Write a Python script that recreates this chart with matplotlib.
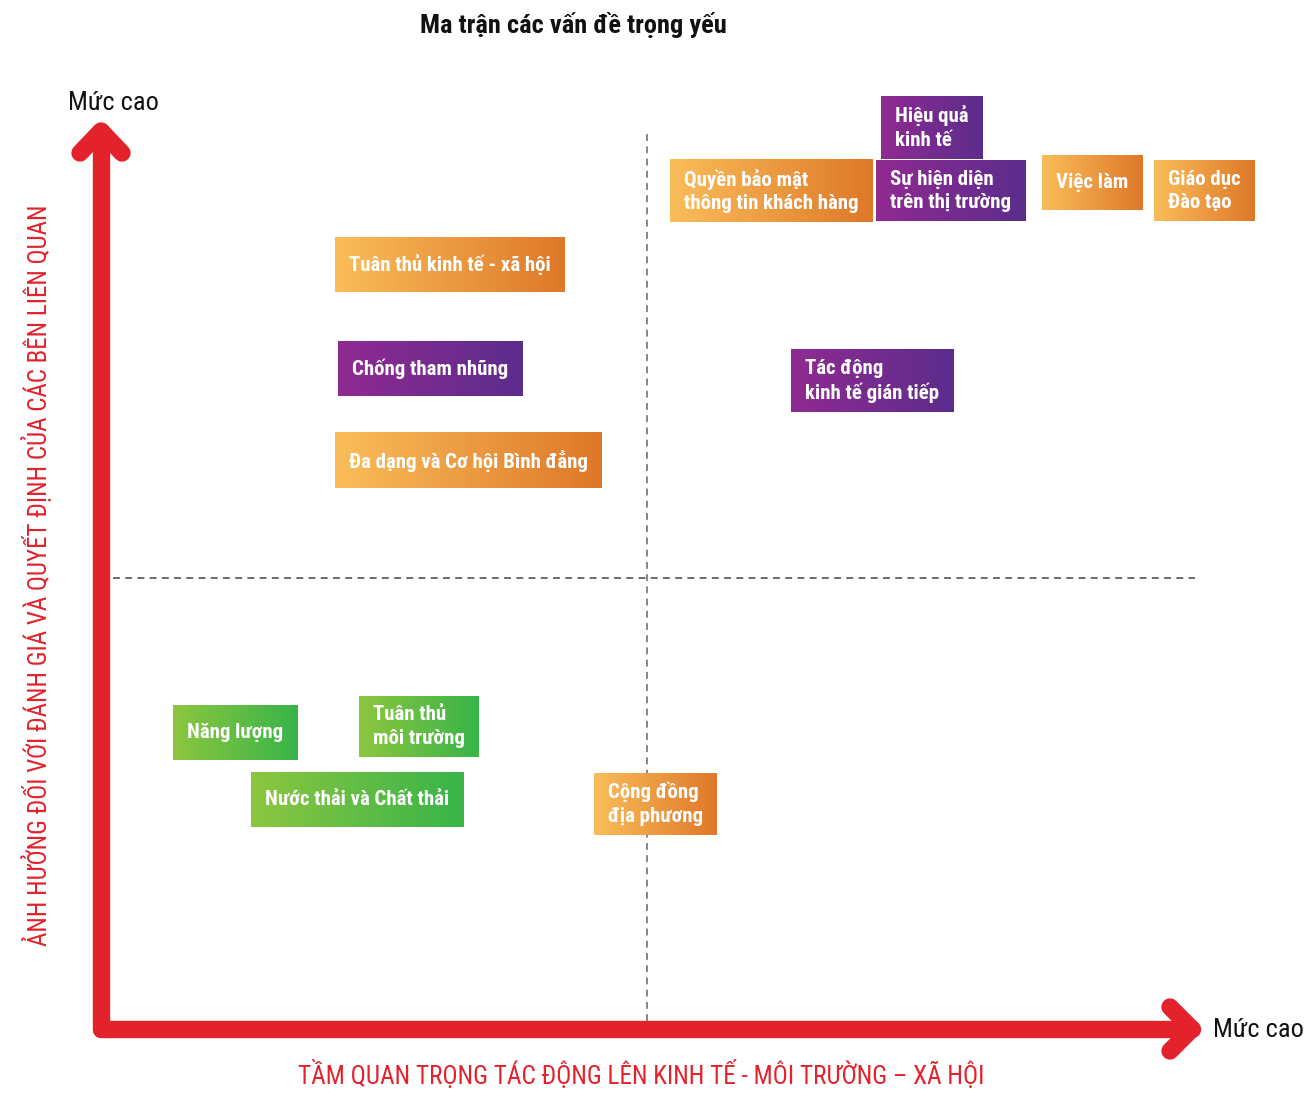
import matplotlib
matplotlib.use("Agg")
import matplotlib.pyplot as plt
import numpy as np
from matplotlib.colors import LinearSegmentedColormap

plt.rcParams['font.family'] = ['Roboto Condensed', 'DejaVu Sans']

# ---------------- data ----------------
title = "Ma trận các vấn đề trọng yếu"
x_label = "TẦM QUAN TRỌNG TÁC ĐỘNG LÊN KINH TẾ - MÔI TRƯỜNG – XÃ HỘI"
y_label = "ẢNH HƯỞNG ĐỐI VỚI ĐÁNH GIÁ VÀ QUYẾT ĐỊNH CỦA CÁC BÊN LIÊN QUAN"
high_label = "Mức cao"

issues = [
    "Hiệu quả\nkinh tế",
    "Quyền bảo mật\nthông tin khách hàng",
    "Sự hiện diện\ntrên thị trường",
    "Việc làm",
    "Giáo dục\nĐào tạo",
    "Tuân thủ kinh tế - xã hội",
    "Chống tham nhũng",
    "Đa dạng và Cơ hội Bình đẳng",
    "Tác động\nkinh tế gián tiếp",
    "Năng lượng",
    "Tuân thủ\nmôi trường",
    "Nước thải và Chất thải",
    "Cộng đồng\nđịa phương",
]
impact = [7.61, 6.14, 7.79, 9.08, 10.11, 3.20, 3.02, 3.37, 7.07, 1.23, 2.91, 2.35, 5.08]
influence = [10.04, 9.33, 9.33, 9.43, 9.33, 8.51, 7.35, 6.33, 7.22, 3.30, 3.37, 2.56, 2.51]
group = ["econ", "social", "econ", "social", "social", "social", "econ", "social",
         "econ", "env", "env", "env", "social"]

# ---------------- style ----------------
gradients = {
    "social": ("#fabd5a", "#de7829"),
    "econ": ("#902a91", "#5b2d8c"),
    "env": ("#8dc63f", "#38b44a"),
}
RED = "#e3222b"
W, H = 1306, 1095

fig = plt.figure(figsize=(W / 100, H / 100), dpi=100)
x0p, x1p, y0p, y1p = 101, 1192, 131, 1029  # pixel frame of the axes
ax = fig.add_axes([x0p / W, (H - y1p) / H, (x1p - x0p) / W, (y1p - y0p) / H])
ax.set_xlim(0, 10)
ax.set_ylim(0, 10)
ax.axis("off")

px_x = 10 / (x1p - x0p)
px_y = 10 / (y1p - y0p)

# dashed quadrant lines
ax.plot([0.11, 10.03], [5.02, 5.02], color="#444444", lw=1.1, ls=(0, (4.5, 3.5)), clip_on=False, zorder=1)
ax.plot([5, 5], [0.09, 10.0], color="#666666", lw=1.1, ls=(0, (4.5, 3.5)), clip_on=False, zorder=1)

# arrows
lw_arrow = 12.5
akw = dict(color=RED, lw=lw_arrow, solid_capstyle="round", solid_joinstyle="round", clip_on=False, zorder=5)
ax.plot([0, 0], [0, 10], **akw)
ax.plot([0, 10], [0, 0], **akw)
ax.plot([-21 * px_x, 0, 21 * px_x], [10 - 22 * px_y, 10, 10 - 22 * px_y], **akw)
ax.plot([10 - 22 * px_x, 10, 10 - 22 * px_x], [22 * px_y, 0, -22 * px_y], **akw)

# labels
fig.text(573 / W, 1 - 25 / H, title, ha="center", va="center", fontsize=19, weight="bold", color="#111111")
fig.text(113 / W, 1 - 103 / H, high_label, ha="center", va="center", fontsize=19, color="#111111")
fig.text(1258 / W, 1 - 1030 / H, high_label, ha="center", va="center", fontsize=19, color="#111111")
fig.text(641 / W, 1 - 1075 / H, x_label, ha="center", va="center", fontsize=18.2, color=RED)
fig.text(37 / W, 1 - 575 / H, y_label, ha="center", va="center", fontsize=18, color=RED, rotation=90)

# issue boxes
texts = []
for name, xv, yv in zip(issues, impact, influence):
    t = ax.text(xv, yv, name, ha="center", va="center", multialignment="left",
                fontsize=15, weight="bold", color="white", linespacing=1.3, zorder=10)
    texts.append(t)

fig.canvas.draw()
renderer = fig.canvas.get_renderer()
inv = ax.transData.inverted()
pad_x, pad_y, min_h = 14, 9, 55
for t, g in zip(texts, group):
    bb = t.get_window_extent(renderer)
    cx, cy = (bb.x0 + bb.x1) / 2, (bb.y0 + bb.y1) / 2
    w = bb.width + 2 * pad_x
    h = max(bb.height + 2 * pad_y, min_h)
    (bx0, by0) = inv.transform((cx - w / 2, cy - h / 2))
    (bx1, by1) = inv.transform((cx + w / 2, cy + h / 2))
    cmap = LinearSegmentedColormap.from_list("g", gradients[g])
    ax.imshow(np.linspace(0, 1, 256).reshape(1, -1), cmap=cmap, extent=(bx0, bx1, by0, by1),
              aspect="auto", zorder=8, clip_on=False, interpolation="bilinear")

ax.set_xlim(0, 10)
ax.set_ylim(0, 10)
fig.savefig("out.png", dpi=100)
